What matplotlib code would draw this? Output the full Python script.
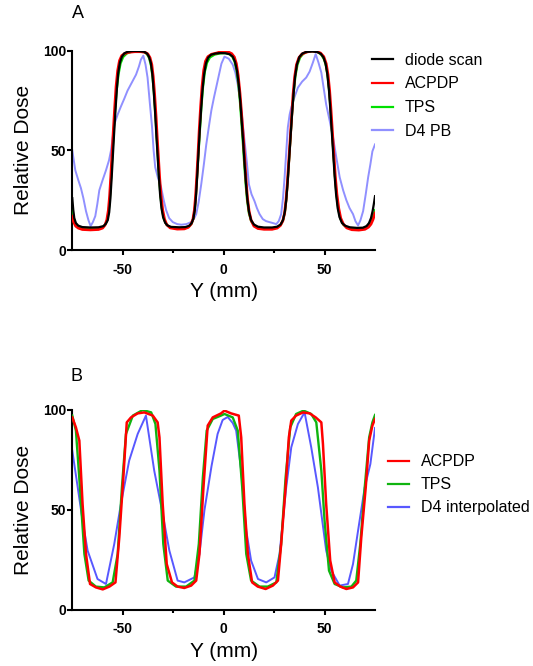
import matplotlib
matplotlib.use("Agg")
import matplotlib.pyplot as plt
from matplotlib.lines import Line2D
from matplotlib.ticker import FixedLocator

plt.rcParams['font.family'] = ['Liberation Sans', 'DejaVu Sans']
plt.rcParams['axes.unicode_minus'] = False

# ---------------- Panel A data ----------------
diode_x = [-75, -74.5, -74, -73.2, -72, -70, -66, -62, -59.5, -58.3, -57.4, -56.7, -56.1, -55.5, -54.9, -54.3, -53.6, -52.9, -52.2, -51.4, -50.4, -49.2, -47.5, -45, -42, -39.5, -38, -37, -36.1, -35.3, -34.6, -33.9, -33.3, -32.7, -32.1, -31.5, -30.8, -30, -29, -27.8, -26, -22, -19, -17, -15.8, -15, -14.3, -13.7, -13.1, -12.5, -11.9, -11.2, -10.5, -9.7, -8.8, -7.7, -6.2, -4, -1.5, 1, 3, 4.5, 5.6, 6.6, 7.5, 8.3, 9, 9.7, 10.4, 11.1, 11.8, 12.6, 13.6, 15, 17, 20, 24, 26.5, 28.2, 29.4, 30.3, 31, 31.7, 32.4, 33.1, 33.8, 34.6, 35.4, 36.3, 37.5, 39, 41, 44, 46.5, 48.2, 49.5, 50.5, 51.4, 52.2, 52.9, 53.6, 54.3, 55, 55.7, 56.5, 57.4, 58.6, 60.2, 62.5, 66, 69, 70.8, 72, 73, 73.8, 74.4, 75]
diode_y = [26, 20, 16, 13.5, 12.2, 11.5, 11.3, 11.4, 12, 13.3, 15, 19, 26, 36, 47, 58, 70, 81, 89, 94, 97, 98.7, 99.5, 99.8, 99.8, 99.5, 98.6, 97, 94, 88, 79, 68, 57, 47, 37, 28, 21, 16.5, 13.7, 12.3, 11.6, 11.4, 11.5, 12.2, 13.6, 15.8, 20, 27, 37, 48, 59, 70, 80, 88, 93.5, 96.5, 98, 98.6, 98.8, 98.7, 98.2, 97, 94.5, 90, 83, 74, 64, 54, 43, 33, 25, 19, 15, 12.8, 11.7, 11.3, 11.3, 11.7, 12.8, 15, 19, 25, 34, 45, 56, 67, 78, 87, 93, 96.8, 98.6, 99.4, 99.6, 99.3, 98.4, 96.6, 93.5, 88, 80, 70, 59, 48, 37, 28, 21, 16.5, 13.6, 12.2, 11.4, 11.1, 11.2, 12, 13.5, 16, 19.5, 23, 27]

acpdp_a_x = [-75, -74.3, -73.3, -72, -70, -66, -62, -60, -58.8, -57.9, -57.1, -56.5, -55.9, -55.3, -54.7, -54.0, -53.3, -52.5, -51.6, -50.5, -49, -47, -44, -41, -39, -37.6, -36.5, -35.6, -34.9, -34.2, -33.5, -32.9, -32.3, -31.7, -31.0, -30.2, -29.3, -28.2, -26.5, -23, -19.5, -17.5, -16.1, -15.2, -14.5, -13.9, -13.3, -12.7, -12.1, -11.4, -10.7, -9.9, -9, -7.8, -6, -3.5, -1, 0.5, 2, 4, 5.3, 6.3, 7.2, 8.1, 8.9, 9.7, 10.4, 11.1, 11.8, 12.6, 13.6, 15, 17, 20, 24, 26.5, 28.1, 29.3, 30.2, 30.9, 31.6, 32.3, 33.0, 33.7, 34.4, 35.2, 36.1, 37.3, 38.8, 41, 43.5, 46, 48, 49.6, 50.8, 51.7, 52.5, 53.2, 53.9, 54.6, 55.3, 56.1, 57, 58, 59.3, 61, 63.5, 67, 70, 71.8, 73, 74, 75]
acpdp_a_y = [17, 14, 12, 11, 10.3, 10.1, 10.3, 11, 12.5, 15, 20, 27, 37, 48, 59, 71, 82, 90, 95, 97.5, 98.6, 99.2, 99.5, 99.5, 99.2, 98.4, 96.5, 93, 87, 78, 67, 56, 46, 36, 27, 20, 15.5, 12.7, 11.1, 10.5, 10.6, 11.4, 13, 15.5, 20, 27, 37, 48, 60, 72, 82, 90, 94.7, 97, 98.2, 98.8, 99.6, 100, 99.5, 98.5, 96.8, 93.5, 87.5, 78.5, 68, 57, 46, 35, 26, 19.5, 15, 12, 10.8, 10.4, 10.4, 11, 12.3, 14.6, 18.5, 25, 34, 45, 56, 67, 78, 87, 93, 96.5, 98.3, 99.3, 99.8, 99.6, 98.8, 97, 93.5, 88, 80, 70, 59, 48, 37, 28, 21, 16, 13, 11.1, 10.2, 10, 10.4, 11.5, 13, 15.3, 18.5]

tps_a_x = [-75, -74.4, -73.5, -72.2, -70, -66, -62, -59.8, -58.5, -57.6, -56.9, -56.3, -55.7, -55.1, -54.5, -53.8, -53.0, -52.1, -51.1, -49.8, -48, -45.5, -42, -39.5, -38, -36.9, -36, -35.2, -34.5, -33.8, -33.2, -32.6, -32.0, -31.3, -30.5, -29.6, -28.4, -26.5, -22.5, -19.5, -17.3, -15.9, -15, -14.3, -13.7, -13.1, -12.4, -11.7, -11.0, -10.2, -9.3, -8.2, -6.8, -4.5, -2, 0.5, 2.8, 4.3, 5.4, 6.4, 7.3, 8.1, 8.8, 9.5, 10.2, 10.9, 11.6, 12.5, 13.6, 15.2, 17.5, 21, 24.5, 26.8, 28.4, 29.5, 30.4, 31.1, 31.8, 32.5, 33.2, 33.9, 34.7, 35.6, 36.6, 37.9, 39.6, 42, 44.5, 46.8, 48.5, 49.8, 50.8, 51.6, 52.4, 53.1, 53.8, 54.5, 55.2, 55.9, 56.8, 57.8, 59.2, 61, 64, 67.5, 70.2, 71.8, 73, 74.1, 75]
tps_a_y = [21, 16.5, 13.5, 11.8, 11, 10.7, 10.8, 11.5, 13, 15.5, 20, 27, 37, 48, 59, 70, 80, 88, 93.5, 96.8, 98.6, 99.5, 99.8, 99.4, 98.3, 96.2, 92.5, 86.5, 78, 67.5, 57, 46.5, 36, 27, 20, 15.5, 12.8, 11.3, 10.8, 10.9, 11.6, 13.2, 15.8, 20.5, 28, 38, 49.5, 61, 72, 82, 89.5, 94, 96.6, 98, 98.6, 98.8, 98.3, 97, 94.5, 90, 83, 74, 64, 54, 43, 33, 25, 18.5, 14.5, 12.2, 11.1, 10.7, 10.8, 11.5, 12.8, 15.2, 19.5, 26, 35.5, 46.5, 57.5, 68.5, 79, 87.5, 93, 96.6, 98.6, 99.6, 99.8, 99.2, 97.8, 95.5, 92, 86.5, 78.5, 68.5, 57.5, 46.5, 36, 27.5, 20.5, 15.8, 12.8, 11.3, 10.6, 10.6, 11.3, 12.6, 14.5, 17, 20]

d4pb_x = [-75, -73.5, -72, -70.7, -69.5, -68.2, -67, -65.9, -64.8, -63.6, -62.6, -61.6, -60, -58.3, -56.8, -55.8, -54.9, -54.2, -52.5, -50.9, -49.2, -47.6, -45.5, -43.4, -42, -41, -39.8, -38.7, -37.7, -36.6, -35.5, -34.7, -33.9, -32.5, -31, -29.7, -28.5, -27, -25.2, -23, -21, -18.5, -16.1, -14.8, -13.6, -12.4, -11.1, -9.8, -8.6, -7.3, -6.1, -4.8, -3.6, -2.3, -1.1, 0.4, 2.5, 4.5, 5.8, 7, 8.6, 10, 11.5, 12.5, 13.8, 15.3, 16.5, 17.8, 19.4, 21, 22.7, 24.5, 26.1, 27.3, 28.5, 29.4, 30.2, 31, 31.8, 32.7, 33.5, 35.2, 36.8, 38.9, 40.9, 42.6, 44.2, 45.6, 47, 48.4, 49.6, 50.8, 52.5, 54.2, 55.9, 57.5, 59.2, 60.8, 62.4, 64.1, 65.3, 66.6, 67.8, 69.1, 70.4, 71.6, 72.7, 73.7, 75]
d4pb_y = [50, 40, 35, 31, 26, 19.5, 15, 12, 14, 17, 23, 30, 35, 40, 45, 50, 57, 63, 68, 72, 76, 80, 84, 88, 92, 95.5, 97.5, 93, 86.5, 74, 62, 50, 41.5, 36, 31.5, 25, 20, 16, 14, 13, 12.7, 13, 14, 15.5, 18, 24, 33, 43, 53, 62, 70, 76.5, 82, 88, 93.5, 97, 96, 93, 89, 83, 72, 58, 44, 33, 28, 24.5, 21, 18, 15.5, 14.5, 14, 13.5, 13, 14.5, 18, 26, 36.5, 49, 61.5, 68, 71.5, 77, 81.5, 84.5, 86.5, 89.5, 94, 98.3, 94, 89, 81, 73, 65, 56.5, 46, 36.5, 30, 25, 21, 18, 14.5, 12.3, 15, 19.5, 28, 36.5, 43, 49.5, 53]

# ---------------- Panel B data ----------------
acpdp_b_x = [-75, -73.2, -71.5, -69.9, -68.2, -66.2, -63.3, -59.9, -56.6, -53.6, -51.7, -49.7, -48.0, -45.9, -42.6, -39.3, -35.1, -32.7, -31.8, -30.2, -28.2, -25.6, -22.8, -19.5, -16.1, -13.6, -12.0, -10.0, -7.9, -5.4, -1.3, 0.4, 3.7, 7.5, 8.7, 10.3, 12.0, 14.1, 16.9, 20.8, 24.4, 26.9, 28.5, 30.7, 32.3, 33.5, 35.9, 39.3, 42.6, 45.6, 48.4, 49.2, 50.8, 52.8, 55.0, 57.8, 60.8, 64.1, 66.6, 68.2, 70.4, 72.1, 73.7, 75]
acpdp_b_y = [96.3, 91.3, 84.7, 53, 28, 13, 11.3, 10.3, 11.7, 13.8, 36.3, 66.3, 93.8, 96.3, 98.3, 98.8, 97.2, 93.8, 86.3, 53, 23, 13.8, 11.7, 11.0, 12.2, 14.7, 28, 61.3, 92.2, 96.3, 98.3, 99.7, 98.3, 97.2, 86.3, 53, 28, 13.8, 11.7, 10.5, 12.2, 14.7, 33, 61.3, 86.3, 94.7, 97.2, 98.8, 98.3, 96.3, 93.8, 83, 53, 24.7, 13.8, 11.7, 10.5, 11.3, 13.8, 36.3, 61.3, 84.7, 92.2, 95.5]

tps_b_x = [-75, -73.2, -71.2, -69.0, -66.9, -63.3, -59.1, -55.0, -52.5, -50.4, -48.4, -45.0, -40.1, -35.9, -33.8, -31.8, -29.9, -27.7, -23.6, -18.6, -14.5, -12.3, -10.3, -8.4, -5.4, -1.3, 0.4, 4.5, 7.0, 9.2, 11.2, 13.6, 17.8, 21.9, 26.1, 28.5, 30.7, 33.0, 35.9, 39.6, 43.4, 45.9, 48.4, 50.0, 52.2, 55.0, 59.1, 63.3, 65.7, 67.7, 69.9, 72.1, 73.7, 75]
tps_b_y = [97.2, 89.7, 61.3, 28, 14.7, 11.7, 11.3, 13.8, 28, 61.3, 88, 97.2, 100, 98.8, 93, 69.7, 33, 14.7, 11.7, 11.7, 14.7, 33, 66.3, 89.7, 95.5, 97.2, 98, 96.3, 89.7, 61.3, 28, 14.7, 11.7, 11.7, 13.8, 33, 66.3, 91.3, 98, 99.7, 98, 93.8, 69.7, 44.7, 19.7, 13, 11.3, 11.7, 14.7, 33, 61.3, 86.3, 93.8, 97.5]

d4i_x = [-75, -72.3, -69.9, -67.4, -62.5, -58.3, -54.2, -50.9, -46.8, -42.6, -38.5, -34.4, -30.2, -26.9, -22.8, -19.5, -14.5, -12.0, -9.5, -6.0, -3.0, -0.5, 2.0, 4.5, 6.2, 8.7, 11.2, 13.6, 17.0, 21.1, 25.2, 27.7, 31.0, 33.5, 36.8, 40.1, 43.4, 46.7, 50.8, 53.3, 57.5, 61.6, 64.1, 66.6, 69.9, 72.7, 75]
d4i_y = [79.7, 61.3, 44.7, 29.7, 15.5, 13, 33, 53, 74.7, 88, 97.2, 69.7, 48, 29.7, 14.7, 13.8, 16.3, 28, 50, 72, 88, 95, 96.5, 93.5, 89.7, 69.7, 39.7, 24.7, 15.5, 13.8, 16.3, 28, 61.3, 81.3, 93, 98.8, 81.3, 61.3, 29.7, 19.7, 12.2, 13, 23, 39.7, 61.3, 73, 91]

x_ticks = [-50, 0, 50]
y_ticks = [0, 50, 100]

fig = plt.figure(figsize=(5.33, 6.66), dpi=100)
axA = fig.add_axes([0.1356, 0.6246, 0.568, 0.2993])
axB = fig.add_axes([0.1356, 0.0841, 0.568, 0.3003])

c_red = '#ff0000'
c_greenA = '#00e000'
c_blueA = '#9090ff'
c_greenB = '#10b410'
c_blueB = '#5858ff'

axA.plot(d4pb_x, d4pb_y, color=c_blueA, lw=1.4, solid_joinstyle='round', zorder=2)
axA.plot(tps_a_x, tps_a_y, color=c_greenA, lw=1.6, zorder=3)
axA.plot(acpdp_a_x, acpdp_a_y, color=c_red, lw=2.0, zorder=4)
axA.plot(diode_x, diode_y, color='black', lw=1.6, zorder=5)

axB.plot(d4i_x, d4i_y, color=c_blueB, lw=1.4, zorder=2)
axB.plot(tps_b_x, tps_b_y, color=c_greenB, lw=1.7, zorder=3)
axB.plot(acpdp_b_x, acpdp_b_y, color=c_red, lw=1.8, zorder=4)

for ax in (axA, axB):
    ax.set_xlim(-75, 75)
    ax.set_ylim(0, 100)
    for s in ('top', 'right'):
        ax.spines[s].set_visible(False)
    for s in ('left', 'bottom'):
        ax.spines[s].set_linewidth(1.5)
    ax.xaxis.set_major_locator(FixedLocator(x_ticks))
    ax.xaxis.set_minor_locator(FixedLocator([-25, 25]))
    ax.yaxis.set_major_locator(FixedLocator(y_ticks))
    ax.tick_params(axis='both', which='major', direction='out', length=3.5, width=1.5,
                   labelsize=10)
    ax.tick_params(axis='x', which='minor', direction='out', length=2.2, width=1.5)
    ax.tick_params(axis='x', which='major', pad=5.5)
    ax.tick_params(axis='y', which='major', pad=1)
    for lab in ax.get_xticklabels() + ax.get_yticklabels():
        lab.set_fontweight('bold')
    ax.set_xlabel('Y (mm)', fontsize=15, va='center')
    ax.xaxis.set_label_coords(0.5, -0.206)
    ax.set_ylabel('Relative Dose', fontsize=15, va='center')
    ax.yaxis.set_label_coords(-0.161, 0.5)
    ax.patch.set_alpha(0)

hA = [Line2D([], [], color='black', lw=1.6), Line2D([], [], color=c_red, lw=1.6),
      Line2D([], [], color=c_greenA, lw=1.6), Line2D([], [], color=c_blueA, lw=1.6)]
axA.legend(hA, ['diode scan', 'ACPDP', 'TPS', 'D4 PB'], loc='center left',
           bbox_to_anchor=(372 / 533, 1 - 95.85 / 666), bbox_transform=fig.transFigure,
           frameon=False, borderpad=0, borderaxespad=0, handlelength=1.3,
           handletextpad=0.75, labelspacing=0.55, fontsize=11.5)

hB = [Line2D([], [], color=c_red, lw=1.6), Line2D([], [], color=c_greenB, lw=1.6),
      Line2D([], [], color=c_blueB, lw=1.6)]
axB.legend(hB, ['ACPDP', 'TPS', 'D4 interpolated'], loc='center left',
           bbox_to_anchor=(388 / 533, 1 - 484.85 / 666), bbox_transform=fig.transFigure,
           frameon=False, borderpad=0, borderaxespad=0, handlelength=1.3,
           handletextpad=0.75, labelspacing=0.5, fontsize=11.5)

fig.text(77.5 / 533, 1 - 14 / 666, 'A', ha='center', va='center', fontsize=13)
fig.text(76 / 533, 1 - 376.5 / 666, 'B', ha='center', va='center', fontsize=13)

fig.savefig('out.png', dpi=100)
